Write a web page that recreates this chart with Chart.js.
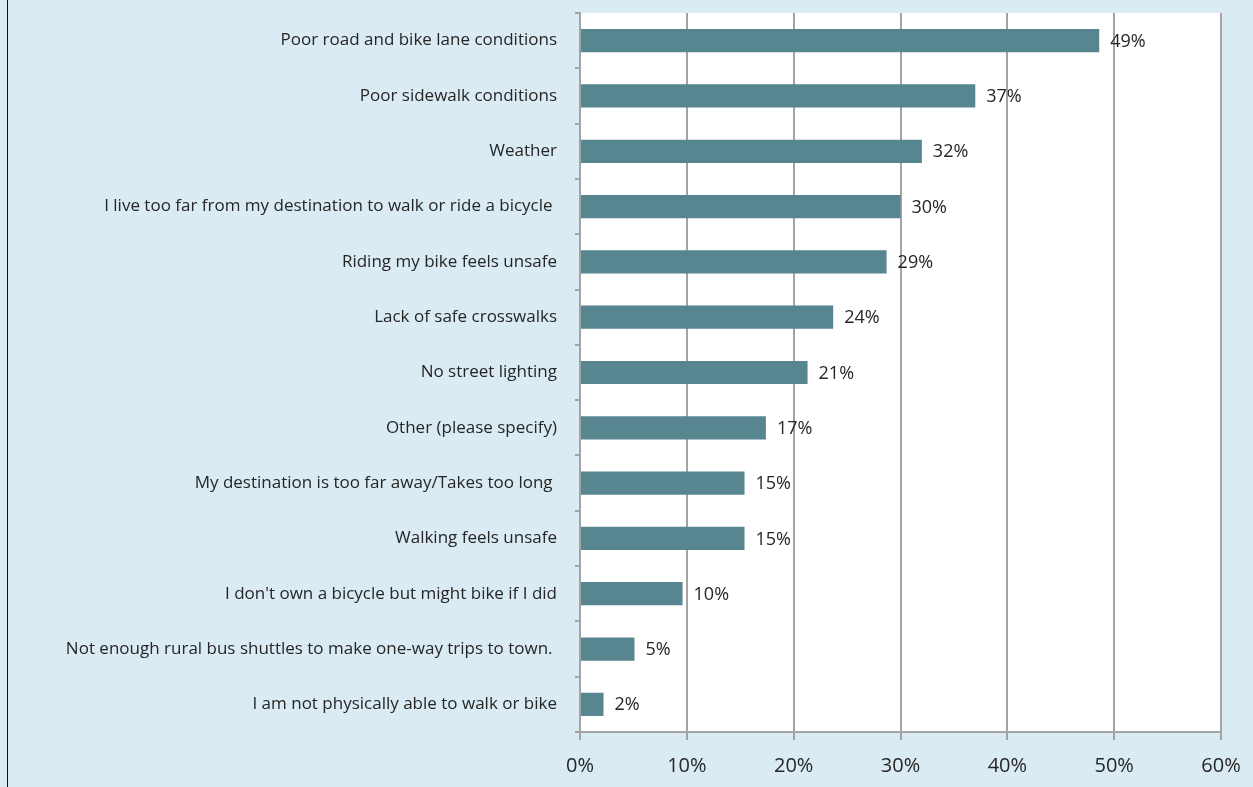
<!DOCTYPE html>
<html>
<head>
<meta charset="utf-8">
<script src="https://cdn.jsdelivr.net/npm/chart.js@4.4.1/dist/chart.umd.min.js"></script>
<style>
    html, body { margin: 0; padding: 0; background: #daebf3; }
    #wrap {
        position: absolute; left: 0; top: 0; width: 1253px; height: 787px;
        background: #daebf3;
    }
    #edge { position: absolute; left: 7px; top: 0; width: 1px; height: 787px; background: #111; }
    canvas { position: absolute; left: 0; top: 0; }
</style>
</head>
<body>
<div id="wrap">
    <canvas id="barChart" width="1253" height="787"></canvas>
    <div id="edge"></div>
</div>
<script>
const categories = [
    'Poor road and bike lane conditions',
    'Poor sidewalk conditions',
    'Weather',
    'I live too far from my destination to walk or ride a bicycle ',
    'Riding my bike feels unsafe',
    'Lack of safe crosswalks',
    'No street lighting',
    'Other (please specify)',
    'My destination is too far away/Takes too long ',
    'Walking feels unsafe',
    "I don't own a bicycle but might bike if I did",
    'Not enough rural bus shuttles to make one-way trips to town. ',
    'I am not physically able to walk or bike'
];

const values = [48.6, 37.0, 32.0, 30.0, 28.7, 23.7, 21.3, 17.4, 15.4, 15.4, 9.6, 5.1, 2.2];

const xTicks = [0, 10, 20, 30, 40, 50, 60];

const FONT = '"Open Sans", "Noto Sans", sans-serif';

// draws "49%" etc. right of each bar
const barLabels = {
    id: 'barLabels',
    afterDatasetsDraw(chart) {
        const ctx = chart.ctx;
        const meta = chart.getDatasetMeta(0);
        ctx.save();
        ctx.font = '18px ' + FONT;
        ctx.fillStyle = '#262626';
        ctx.textAlign = 'left';
        ctx.textBaseline = 'middle';
        meta.data.forEach((bar, i) => {
            ctx.fillText(Math.round(values[i]) + '%', bar.x + 11, bar.y + 1);
        });
        ctx.restore();
    }
};

const bar = document.getElementById('barChart');

new Chart(bar, {
    type: 'bar',

    data: {
        labels: categories,

        datasets: [{
            data: values,
            backgroundColor: '#578690',
            barPercentage: 0.42,
            categoryPercentage: 1
        }]
    },

    options: {
        indexAxis: 'y',
        responsive: false,
        animation: false,

        layout: {
            padding: { left: 0, right: 32, top: 13, bottom: 0 }
        },

        plugins: {
            legend: { display: false },
            tooltip: { enabled: false }
        },

        scales: {
            x: {
                min: 0,
                max: 60,
                afterBuildTicks: scale => {
                    scale.ticks = xTicks.map(v => ({ value: v }));
                },
                afterFit: scale => {
                    scale.height = 55;
                    scale.paddingLeft = 0;
                    scale.paddingRight = 0;
                },
                ticks: {
                    color: '#262626',
                    font: { family: FONT, size: 20 },
                    padding: 14,
                    callback: v => v + '%'
                },
                grid: {
                    color: '#a3a3a3',
                    lineWidth: 2,
                    tickLength: 8
                },
                border: { color: '#a3a3a3', width: 2 }
            },

            y: {
                afterFit: scale => {
                    scale.width = 580;
                    scale.paddingTop = 0;
                    scale.paddingBottom = 0;
                },
                ticks: {
                    color: '#262626',
                    font: { family: FONT, size: 17 },
                    padding: 18,
                    autoSkip: false
                },
                grid: {
                    drawOnChartArea: false,
                    color: '#a3a3a3',
                    lineWidth: 2,
                    tickLength: 5
                },
                border: { color: '#a3a3a3', width: 2 }
            }
        }
    },

    plugins: [
        {
            id: 'plotBg',
            beforeDraw(chart) {
                const a = chart.chartArea;
                chart.ctx.save();
                chart.ctx.fillStyle = '#ffffff';
                chart.ctx.fillRect(a.left, a.top, a.right - a.left, a.bottom - a.top);
                chart.ctx.restore();
            }
        },
        barLabels
    ]
});
</script>
</body>
</html>
